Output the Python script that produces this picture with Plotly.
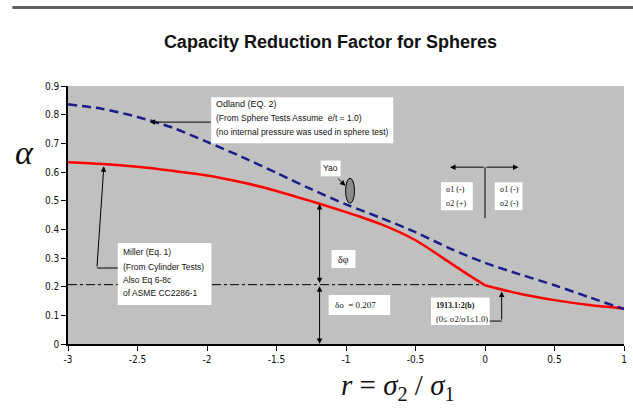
import plotly.graph_objects as go

# ---- data ----
r_vals = [-3, -2.75, -2.5, -2.25, -2, -1.75, -1.5, -1.25, -1, -0.75, -0.5, -0.25, -0.125, 0, 0.25, 0.5, 0.75, 1]
miller = [0.634, 0.628, 0.618, 0.604, 0.588, 0.564, 0.534, 0.498, 0.460, 0.418, 0.362, 0.283, 0.243, 0.205, 0.175, 0.153, 0.136, 0.124]
odland_r = [-3, -2.75, -2.5, -2.25, -2, -1.75, -1.5, -1.25, -1, -0.75, -0.5, -0.25, 0, 0.25, 0.5, 0.75, 1]
odland = [0.836, 0.820, 0.792, 0.755, 0.705, 0.653, 0.597, 0.540, 0.487, 0.440, 0.390, 0.333, 0.283, 0.243, 0.205, 0.163, 0.122]
alpha_o = 0.207
alpha_o_r = [-3, 0]
x_tick_vals = [-3, -2.5, -2, -1.5, -1, -0.5, 0, 0.5, 1]
x_tick_text = ["-3", "-2.5", "-2", "-1.5", "-1", "-0.5", "0", "0.5", "1"]
y_tick_vals = [0, 0.1, 0.2, 0.3, 0.4, 0.5, 0.6, 0.7, 0.8, 0.9]
y_tick_text = ["0", "0.1", "0.2", "0.3", "0.4", "0.5", "0.6", "0.7", "0.8", "0.9"]

SANS = "Liberation Sans, Arial, sans-serif"
NARROW = "Liberation Sans Narrow, DejaVu Sans Condensed, Liberation Sans, Arial"
SERIF = "Liberation Serif, Times New Roman, serif"

fig = go.Figure()
fig.add_trace(go.Scatter(x=alpha_o_r, y=[alpha_o] * len(alpha_o_r), mode="lines",
                         line=dict(color="black", width=1, dash="dashdot"), hoverinfo="skip"))
k = r_vals.index(0)
# Miller curve: smooth on each side of the kink at r = 0
fig.add_trace(go.Scatter(x=r_vals[:k + 1], y=miller[:k + 1], mode="lines",
                         line=dict(color="#ff0000", width=2.5, shape="spline", smoothing=0.8)))
fig.add_trace(go.Scatter(x=r_vals[k:], y=miller[k:], mode="lines",
                         line=dict(color="#ff0000", width=2.5, shape="spline", smoothing=0.8)))
fig.add_trace(go.Scatter(x=odland_r, y=odland, mode="lines",
                         line=dict(color="#1c1c8a", width=2.5, dash="9px,5px", shape="spline", smoothing=0.8)))

shapes = []
annotations = []

def box(x0, x1, y0, y1):
    shapes.append(dict(type="rect", xref="x", yref="y", x0=x0, x1=x1, y0=y0, y1=y1,
                       fillcolor="white", line=dict(width=0), layer="above"))

def line(x0, y0, x1, y1, w=1):
    shapes.append(dict(type="line", xref="x", yref="y", x0=x0, y0=y0, x1=x1, y1=y1,
                       line=dict(color="black", width=w), layer="above"))

def text(x, y, t, size=8, anchor="left", font=SANS, color="#111"):
    annotations.append(dict(x=x, y=y, xref="x", yref="y", text=t, showarrow=False,
                            xanchor=anchor, yanchor="middle", font=dict(family=font, size=size, color=color)))

def arrow(xh, yh, xt, yt, both=False, w=1):
    annotations.append(dict(x=xh, y=yh, ax=xt, ay=yt, xref="x", yref="y", axref="x", ayref="y",
                            text="", showarrow=True, arrowhead=2, arrowsize=1.1, arrowwidth=w,
                            arrowcolor="black", arrowside="end+start" if both else "end"))

# Odland box
box(-1.970, -0.660, 0.700, 0.861)
text(-1.950, 0.836, "Odland (EQ. 2)", size=9)
text(-1.950, 0.787, "(From Sphere Tests Assume  e/t = 1.0)", size=8.5)
text(-1.950, 0.739, "(no internal pressure was used in sphere test)", size=8.5)
arrow(-2.413, 0.774, -1.962, 0.774)

# Miller box
box(-2.642, -1.968, 0.136, 0.352)
text(-2.620, 0.320, "Miller (Eq. 1)", size=8.5)
text(-2.620, 0.268, "(From Cylinder Tests)", size=8.5)
text(-2.620, 0.222, "Also Eq 6-8c", size=8.5)
text(-2.620, 0.178, "of ASME CC2286-1", size=8.5)
line(-2.642, 0.265, -2.792, 0.265)
arrow(-2.742, 0.620, -2.792, 0.265)

# Yao
box(-1.182, -1.039, 0.585, 0.640)
text(-1.111, 0.613, "Yao", anchor="center", size=8.5)
arrow(-1.004, 0.552, -1.068, 0.582)
shapes.append(dict(type="circle", xref="x", yref="y", x0=-1.003, x1=-0.939, y0=0.491, y1=0.578,
                   fillcolor="#8c8c8c", line=dict(color="black", width=1), layer="above"))

# vertical double arrows
arrow(-1.19, 0.488, -1.19, alpha_o, both=True)
arrow(-1.19, 0.0, -1.19, alpha_o, both=True)
box(-1.104, -0.932, 0.265, 0.328)
text(-1.018, 0.296, "δφ", anchor="center", font=SERIF, size=10)
box(-1.125, -0.682, 0.101, 0.171)
text(-1.090, 0.136, "δo  = 0.207", font=SERIF, size=9)

# sign indicator
line(0, 0.617, 0, 0.439)
arrow(-0.252, 0.617, 0, 0.617)
arrow(0.241, 0.617, 0, 0.617)
box(-0.317, -0.088, 0.467, 0.564)
text(-0.295, 0.540, "σ1 (-)", font=SERIF, size=8)
text(-0.295, 0.491, "σ2 (+)", font=SERIF, size=8)
box(0.070, 0.270, 0.467, 0.564)
text(0.090, 0.540, "σ1 (-)", font=SERIF, size=8)
text(0.090, 0.491, "σ2 (-)", font=SERIF, size=8)

# 1913 box
box(-0.388, 0.034, 0.066, 0.162)
text(-0.370, 0.136, "<b>1913.1:2(b)</b>", font=SERIF, size=8)
text(-0.370, 0.086, "(0≤ σ2/σ1≤1.0)", font=SERIF, size=8.5)
line(0.034, 0.080, 0.120, 0.080)
arrow(0.120, 0.183, 0.120, 0.080)

# axis titles
annotations.append(dict(xref="paper", yref="paper", x=-0.078, y=0.743, text="<i>α</i>", showarrow=False,
                        font=dict(family=SERIF, size=34, color="#111"), xanchor="center", yanchor="middle"))
annotations.append(dict(xref="paper", yref="paper", x=0.594, y=-0.165,
                        text="<i>r</i> = <i>σ</i><sub>2</sub> / <i>σ</i><sub>1</sub>", showarrow=False,
                        font=dict(family=SERIF, size=29, color="#111"), xanchor="center", yanchor="middle"))

shapes.append(dict(type="line", xref="paper", yref="paper", x0=-0.10, x1=1.02, y0=1.304, y1=1.304,
                   line=dict(color="#606060", width=3)))

fig.update_layout(
    width=633, height=416,
    margin=dict(l=68, r=6, t=86, b=72),
    paper_bgcolor="white", plot_bgcolor="#c0c0c0",
    showlegend=False,
    title=dict(text="<b>Capacity Reduction Factor for Spheres</b>", x=0.522, y=0.899,
               xanchor="center", yanchor="middle", xref="container", yref="container",
               font=dict(family=SANS, size=18, color="#111")),
    xaxis=dict(range=[-3, 1], tickvals=x_tick_vals, ticktext=x_tick_text, showgrid=False, zeroline=False,
               showline=True, linecolor="black", linewidth=1.5, ticks="outside", ticklen=5, tickcolor="black",
               tickfont=dict(family=NARROW, size=10, color="#111")),
    yaxis=dict(range=[0, 0.9], tickvals=y_tick_vals, ticktext=y_tick_text, showgrid=False, zeroline=False,
               showline=True, linecolor="black", linewidth=1.5, ticks="outside", ticklen=5, tickcolor="black",
               tickfont=dict(family=NARROW, size=10, color="#111")),
    shapes=shapes, annotations=annotations,
)

fig.write_html("out.html")
